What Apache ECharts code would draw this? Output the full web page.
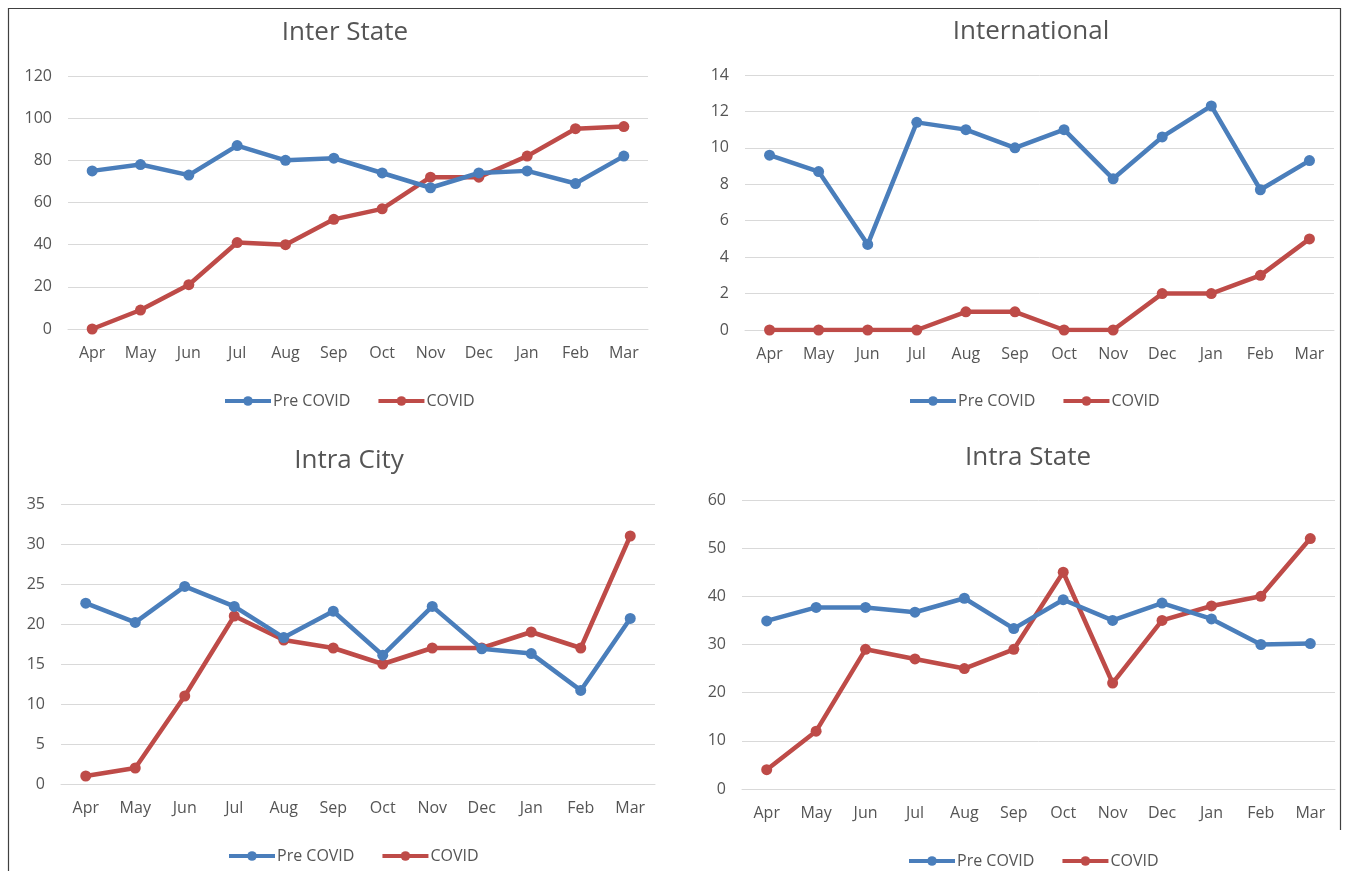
<!DOCTYPE html>
<html>
<head>
<meta charset="utf-8">
<script src="https://cdn.jsdelivr.net/npm/echarts@6/dist/echarts.min.js"></script>
<style>
html,body{margin:0;padding:0;background:#fff;}
#c{width:1346px;height:871px;}
</style>
</head>
<body>
<div id="c"></div>
<script>
const months = ['Apr','May','Jun','Jul','Aug','Sep','Oct','Nov','Dec','Jan','Feb','Mar'];
const seriesNames = ['Pre COVID','COVID'];

const interStateTitle = 'Inter State';
const interStatePre   = [75, 78, 73, 87, 80, 81, 74, 67, 74, 75, 69, 82];
const interStateCovid = [0, 9, 21, 41, 40, 52, 57, 72, 72, 82, 95, 96];
const interStateTicks = {min: 0, max: 120, interval: 20};

const internationalTitle = 'International';
const internationalPre   = [9.6, 8.7, 4.7, 11.4, 11.0, 10.0, 11.0, 8.3, 10.6, 12.3, 7.7, 9.3];
const internationalCovid = [0, 0, 0, 0, 1, 1, 0, 0, 2, 2, 3, 5];
const internationalTicks = {min: 0, max: 14, interval: 2};

const intraCityTitle = 'Intra City';
const intraCityPre   = [22.6, 20.2, 24.7, 22.2, 18.3, 21.6, 16.1, 22.2, 16.9, 16.3, 11.7, 20.7];
const intraCityCovid = [1, 2, 11, 21, 18, 17, 15, 17, 17, 19, 17, 31];
const intraCityTicks = {min: 0, max: 35, interval: 5};

const intraStateTitle = 'Intra State';
const intraStatePre   = [34.9, 37.7, 37.7, 36.7, 39.6, 33.3, 39.3, 35.0, 38.6, 35.3, 30.0, 30.2];
const intraStateCovid = [4, 12, 29, 27, 25, 29, 45, 22, 35, 38, 40, 52];
const intraStateTicks = {min: 0, max: 60, interval: 10};

const BLUE = '#4a7ebb';
const RED = '#be4b48';
const TXT = '#555555';
const GRID = '#d9d9d9';
const FONT = 'Open Sans';

const panels = [
  {title: interStateTitle, pre: interStatePre, covid: interStateCovid, ticks: interStateTicks,
   grid: {left: 68, width: 580, top: 76, height: 253}, titlePos: {x: 340, y: 15}, legendPos: {x: 218, y: 388}},
  {title: internationalTitle, pre: internationalPre, covid: internationalCovid, ticks: internationalTicks,
   grid: {left: 745, width: 589, top: 75, height: 255}, titlePos: {x: 1026, y: 14}, legendPos: {x: 903, y: 388}},
  {title: intraCityTitle, pre: intraCityPre, covid: intraCityCovid, ticks: intraCityTicks,
   grid: {left: 61, width: 594, top: 504, height: 280}, titlePos: {x: 344, y: 443}, legendPos: {x: 222, y: 843}},
  {title: intraStateTitle, pre: intraStatePre, covid: intraStateCovid, ticks: intraStateTicks,
   grid: {left: 742, width: 593, top: 500, height: 289}, titlePos: {x: 1023, y: 440}, legendPos: {x: 902, y: 848}}
];

const option = {
  backgroundColor: '#fff',
  animation: false,
  title: [], legend: [], grid: [], xAxis: [], yAxis: [], series: [],
  graphic: [
    {type: 'polyline', shape: {points: [[8.5, 871], [8.5, 8.5], [1340.5, 8.5], [1340.5, 830]]},
     style: {stroke: '#404040', lineWidth: 1.2, fill: null}, silent: true}
  ]
};

panels.forEach((p, i) => {
  option.title.push({
    text: p.title, left: p.titlePos.x, top: p.titlePos.y, textAlign: 'center',
    textStyle: {fontFamily: FONT, fontSize: 26, fontWeight: 'normal', color: TXT}
  });
  option.grid.push({left: p.grid.left, width: p.grid.width, top: p.grid.top, height: p.grid.height, containLabel: false});
  option.xAxis.push({
    type: 'category', gridIndex: i, data: months, boundaryGap: true,
    axisLine: {show: true, lineStyle: {color: GRID, width: 1}},
    axisTick: {show: false},
    axisLabel: {color: TXT, fontFamily: FONT, fontSize: 16, margin: 16}
  });
  option.yAxis.push({
    type: 'value', gridIndex: i, min: p.ticks.min, max: p.ticks.max, interval: p.ticks.interval,
    axisLine: {show: false}, axisTick: {show: false},
    splitLine: {show: true, lineStyle: {color: GRID, width: 1}},
    axisLabel: {color: TXT, fontFamily: FONT, fontSize: 16, margin: 16}
  });
  option.legend.push({
    left: p.legendPos.x, top: p.legendPos.y,
    data: seriesNames.map(n => ({name: n + '\u200b'.repeat(i)})),
    itemWidth: 46, itemHeight: 12, itemGap: 26,
    lineStyle: {width: 4},
    textStyle: {color: TXT, fontFamily: FONT, fontSize: 16, padding: [0, 0, 0, -3]}
  });
  [p.pre, p.covid].forEach((data, k) => {
    const color = k === 0 ? BLUE : RED;
    option.series.push({
      name: seriesNames[k] + '\u200b'.repeat(i),
      type: 'line', xAxisIndex: i, yAxisIndex: i, data: data,
      symbol: 'circle', symbolSize: 11, showSymbol: true,
      lineStyle: {color: color, width: 4.5},
      itemStyle: {color: color},
      z: k === 0 ? 3 : 2
    });
  });
});

const chart = echarts.init(document.getElementById('c'), null, {renderer: 'canvas'});
chart.setOption(option);
</script>
</body>
</html>
